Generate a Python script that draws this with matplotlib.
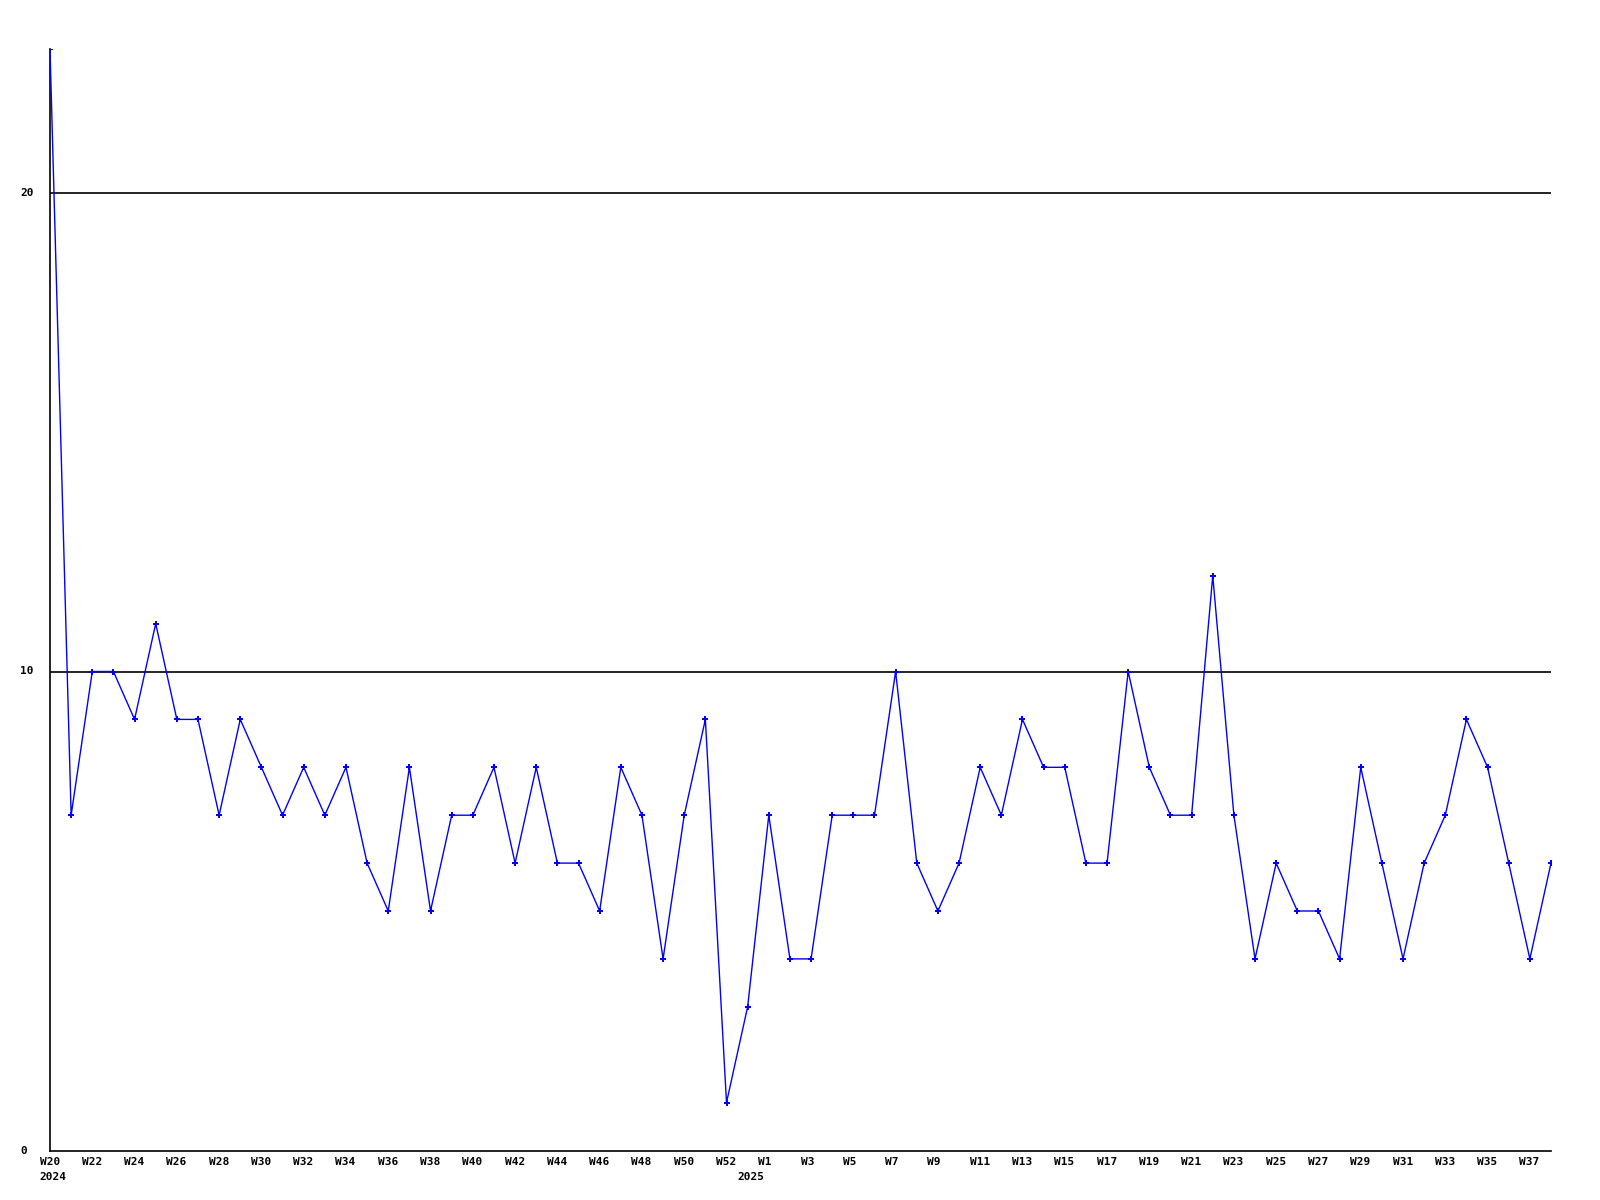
import matplotlib
matplotlib.use("Agg")
import matplotlib.pyplot as plt
import matplotlib.transforms as mtransforms

# ── Data ──────────────────────────────────────────────────────────────────────
weeks = (["W%d" % w for w in range(20, 53)] + ["W53"]
         + ["W%d" % w for w in range(1, 39)])
values = [23, 7, 10, 10, 9, 11, 9, 9, 7, 9,
          8, 7, 8, 7, 8, 6, 5, 8, 5, 7,
          7, 8, 6, 8, 6, 6, 5, 8, 7, 4,
          7, 9, 1, 3, 7, 4, 4, 7, 7, 7,
          10, 6, 5, 6, 8, 7, 9, 8, 8, 6,
          6, 10, 8, 7, 7, 12, 7, 4, 6, 5,
          5, 4, 8, 6, 4, 6, 7, 9, 8, 6,
          4, 6]
year_labels = ["2024", "2025"]
year_starts = [0, 33]
y_ticks = [0, 10, 20]

# ── Style ─────────────────────────────────────────────────────────────────────
LINE = "#0000FF"
FONT = dict(family="DejaVu Sans Mono", fontweight="bold", fontsize=8, color="black")

fig = plt.figure(figsize=(16, 12), dpi=100, facecolor="white")
ax = fig.add_axes([50 / 1600, 1 - 1150.5 / 1200, 1501 / 1600, 1101.7 / 1200])

x = list(range(len(values)))
ax.plot(x, values, color=LINE, linewidth=1.0, marker="P", markersize=4,
        markeredgewidth=0, zorder=3)

for yv in y_ticks[1:]:
    ax.axhline(yv, color="black", linewidth=1.2, zorder=2)

ax.set_xlim(0, len(values) - 1)
ax.set_ylim(0, max(values))
ax.spines[["top", "right"]].set_visible(False)
ax.spines["left"].set_linewidth(1.2)
ax.spines["bottom"].set_linewidth(1.2)
ax.set_xticks([])
ax.set_yticks([])

# y tick labels, left-aligned near the figure edge
for yv in y_ticks:
    ax.text(20 / 1600, yv, str(yv), ha="left", va="center",
            transform=mtransforms.blended_transform_factory(fig.transFigure, ax.transData),
            **FONT)

# week labels every second week, anchored like 3-character labels
label_tr = ax.get_xaxis_transform() + mtransforms.ScaledTranslation(-10.5 / 100, -11.5 / 100, fig.dpi_scale_trans)
for i in range(0, len(weeks), 2):
    ax.text(i, 0, weeks[i], ha="left", va="center", transform=label_tr, **FONT)

year_tr = ax.get_xaxis_transform() + mtransforms.ScaledTranslation(3 / 100, -27 / 100, fig.dpi_scale_trans)
for lbl, i in zip(year_labels, year_starts):
    ax.text(i, 0, lbl, ha="center", va="center", transform=year_tr, **FONT)

fig.savefig("out.png", dpi=100, facecolor="white")
